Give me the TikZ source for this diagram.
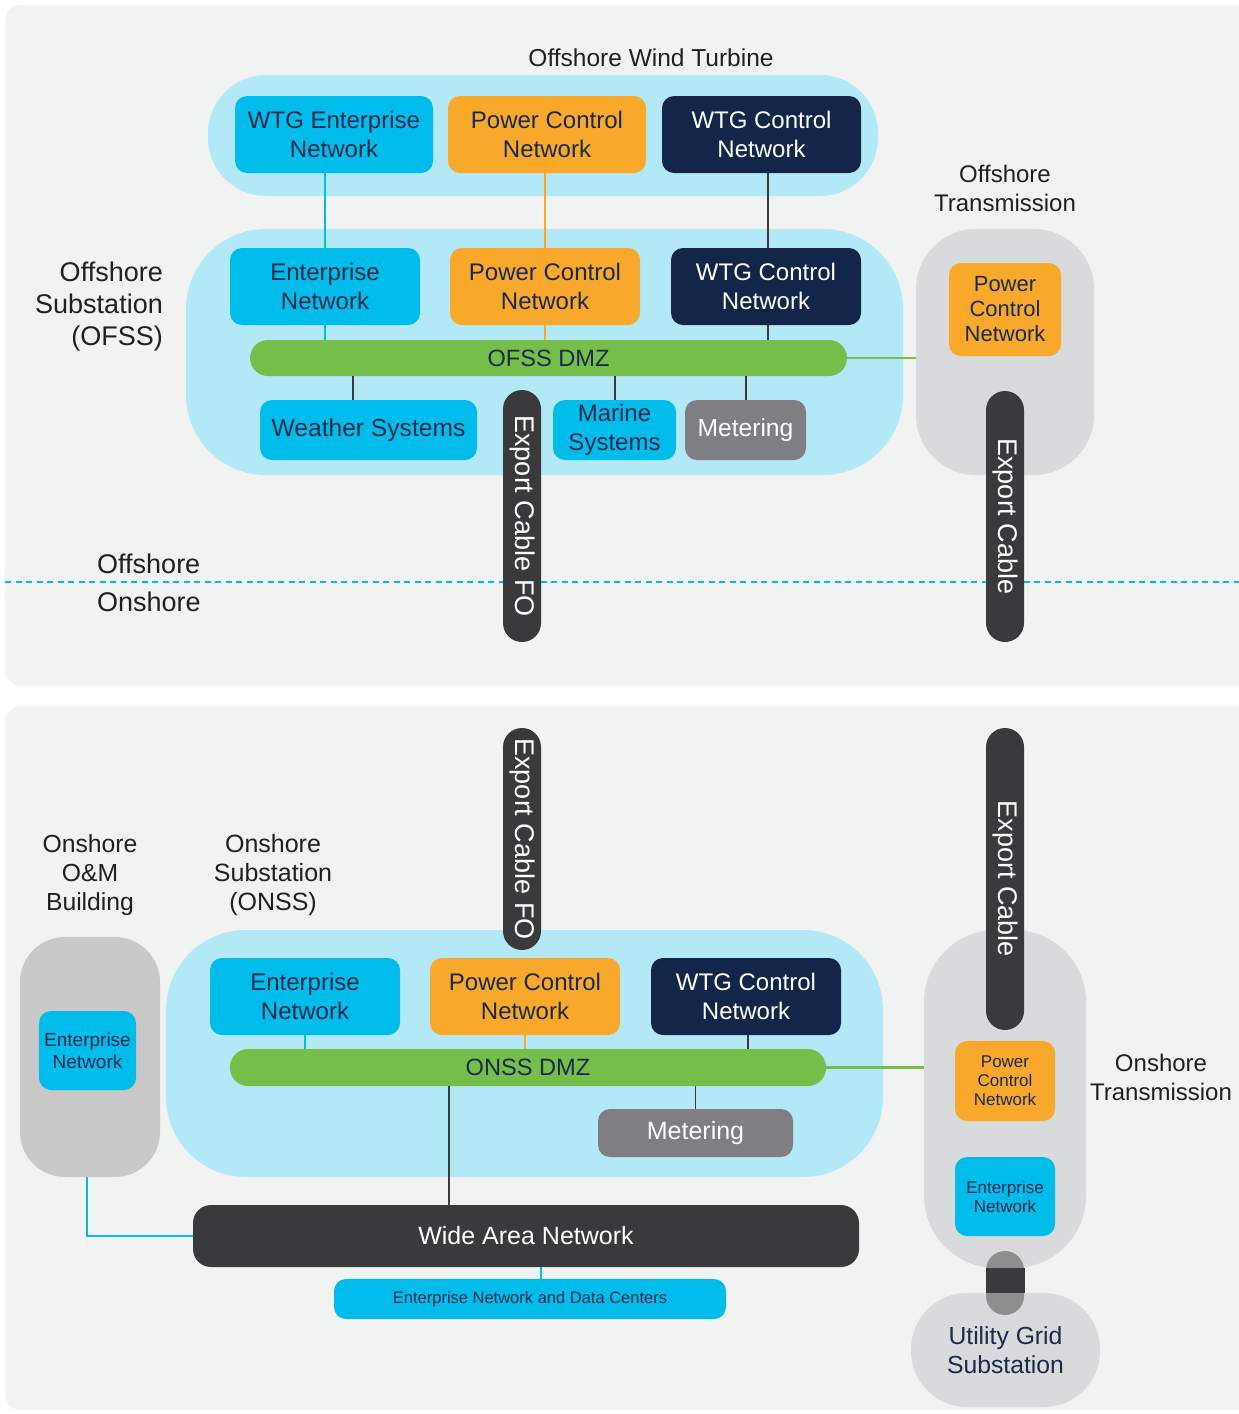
\documentclass[tikz,border=0pt]{standalone}
\usepackage{fontspec}
\setmainfont{Liberation Sans}
\usetikzlibrary{calc}
\definecolor{panelbg}{HTML}{F1F2F2}
\definecolor{zoneblue}{HTML}{B3E8F7}
\definecolor{cyanbox}{HTML}{00BCEB}
\definecolor{orangebox}{HTML}{F8A92C}
\definecolor{navybox}{HTML}{14254A}
\definecolor{navytext}{HTML}{1B2A4A}
\definecolor{dmzgreen}{HTML}{76BE4A}
\definecolor{metergray}{HTML}{7F7E83}
\definecolor{cabledark}{HTML}{3A3A3C}
\definecolor{sitegray}{HTML}{D9DADB}
\definecolor{omgray}{HTML}{C9C9CA}
\definecolor{linkgray}{HTML}{8E8E8E}
\definecolor{labeltext}{HTML}{231F20}
\newcommand{\fsz}[2]{\fontsize{#1}{#2}\selectfont}
\tikzset{
  box/.style={rounded corners=12, inner sep=0, align=center, minimum height=77},
  entbox/.style={box, fill=cyanbox, text=navytext},
  pcnbox/.style={box, fill=orangebox, text=navytext},
  wtgbox/.style={box, fill=navybox, text=white},
  meterbox/.style={box, fill=metergray, text=white},
  dmzbar/.style={rounded corners=18, inner sep=0, fill=dmzgreen, text=navytext, minimum height=36},
  zone/.style={inner sep=0, fill=zoneblue},
  site/.style={inner sep=0, fill=sitegray},
  pill/.style={rotate=-90, rounded corners=19, fill=cabledark, text=white, inner sep=0, minimum height=38, font=\fsz{27}{32}},
  lbl/.style={text=labeltext, align=center, inner sep=0},
  cyanline/.style={draw=cyanbox, line width=2},
  orangeline/.style={draw=orangebox, line width=2},
  darkline/.style={draw=cabledark, line width=2},
  thinline/.style={draw=cabledark, line width=1.2},
  greenline/.style={draw=dmzgreen, line width=2.5},
}
\begin{document}
\begin{tikzpicture}[x=1pt,y=-1pt]
\useasboundingbox (0,0) rectangle (1239,1414);
\clip (0,0) rectangle (1239,1414);
\fill[white] (0,0) rectangle (1239,1414);

% ---------- offshore panel ----------
\fill[panelbg, rounded corners=16] (5,5) rectangle (1260,686);
\node[lbl, font=\fsz{24.5}{29}] (turbinelbl) at (651,58) {Offshore Wind Turbine};
\node[lbl, font=\fsz{27}{32}, align=right, anchor=east] (ofsslbl) at (163,307) {Offshore\\Substation\\(OFSS)};
\node[lbl, font=\fsz{24}{29}] (offtranslbl) at (1005,188) {Offshore\\Transmission};

\node[zone, rounded corners=58, minimum width=670, minimum height=121] (turbine) at (543,135.5) {};
\node[zone, rounded corners=80, minimum width=717, minimum height=246] (ofss) at (544.5,352) {};
\node[site, rounded corners=60, minimum width=178, minimum height=246] (offtrans) at (1005,352) {};

% boxes of the wind turbine
\node[entbox, minimum width=198, font=\fsz{24}{29}] (wtgent) at (334,134.5) {WTG Enterprise\\Network};
\node[pcnbox, minimum width=198, font=\fsz{24}{29}] (wtgpcn) at (547,134.5) {Power Control\\Network};
\node[wtgbox, minimum width=199, font=\fsz{24}{29}] (wtgctl) at (761.5,134.5) {WTG Control\\Network};

% boxes of the offshore substation
\node[entbox, minimum width=190, font=\fsz{24}{29}] (ofent) at (325,286.5) {Enterprise\\Network};
\node[pcnbox, minimum width=190, font=\fsz{24}{29}] (ofpcn) at (545,286.5) {Power Control\\Network};
\node[wtgbox, minimum width=190, font=\fsz{24}{29}] (ofctl) at (766,286.5) {WTG Control\\Network};
\node[dmzbar, minimum width=597, font=\fsz{23.6}{28}] (ofdmz) at (548.5,358) {OFSS DMZ};
\node[entbox, minimum width=217, minimum height=60, font=\fsz{24.6}{29}] (weather) at (368.5,430) {Weather Systems};
\node[entbox, minimum width=123, minimum height=60, font=\fsz{24}{29}] (marine) at (614.5,430) {Marine\\Systems};
\node[meterbox, minimum width=121, minimum height=60, font=\fsz{24.6}{29}] (ofmeter) at (745.5,430) {Metering};

\node[pcnbox, minimum width=112, minimum height=93, font=\fsz{22}{25}] (otpcn) at (1005,309.5) {Power\\Control\\Network};

% turbine to substation links
\draw[cyanline] (ofent.north) -- (ofent.north |- wtgent.south);
\draw[orangeline] (ofpcn.north) -- (ofpcn.north |- wtgpcn.south);
\draw[darkline] ([xshift=2]ofctl.north) -- ([xshift=2]ofctl.north |- wtgctl.south);
% substation links to the DMZ
\draw[cyanline] (ofent.south) -- (ofent.south |- ofdmz.north);
\draw[orangeline] (ofpcn.south) -- (ofpcn.south |- ofdmz.north);
\draw[darkline] ([xshift=2]ofctl.south) -- ([xshift=2]ofctl.south |- ofdmz.north);
\draw[darkline] ([xshift=-16]weather.north) -- ([xshift=-16]weather.north |- ofdmz.south);
\draw[darkline] (marine.north) -- (marine.north |- ofdmz.south);
\draw[darkline] (ofmeter.north) -- (ofmeter.north |- ofdmz.south);
\draw[greenline] (ofdmz.east) -- (ofdmz.east -| offtrans.west);

% shore line
\coordinate (shoreW) at (5,582);
\coordinate (shoreE) at (1239,582);
\draw[cyanbox, line width=2.5, dash pattern=on 6 off 4.5] (shoreW) -- (shoreE);
\node[lbl, font=\fsz{27}{32}, anchor=west] (offlbl) at (97,564) {Offshore};
\node[lbl, font=\fsz{27}{32}, anchor=west] (onlbl) at (97,602) {Onshore};

% export cables (offshore side)
\node[pill, minimum width=252] (fo1) at (522,516) {Export Cable FO};
\node[pill, minimum width=251] (ec1) at (1005,516.5) {Export Cable};

% ---------- onshore panel ----------
\fill[panelbg, rounded corners=16] (5,706) rectangle (1260,1410);
\node[lbl, font=\fsz{24.7}{29}] (omlbl) at (90,875) {Onshore\\O\&M\\Building};
\node[lbl, font=\fsz{25}{29}] (onsslbl) at (273,875) {Onshore\\Substation\\(ONSS)};
\node[lbl, font=\fsz{24}{29}] (ontranslbl) at (1161,1077.5) {Onshore\\Transmission};

\node[site, fill=omgray, rounded corners=45, minimum width=140, minimum height=240] (om) at (90,1057) {};
\node[zone, rounded corners=80, minimum width=717, minimum height=247] (onss) at (524.5,1053.5) {};
\node[site, rounded corners=72, minimum width=162, minimum height=338] (ontrans) at (1005,1099) {};
\node[site, rounded corners=56, minimum width=189, minimum height=114, text=navytext, align=center, font=\fsz{24.7}{29}] (utility) at (1005.5,1350) {Utility Grid\\Substation};

\node[entbox, minimum width=97, minimum height=79, font=\fsz{19}{22}] (oment) at (87.5,1050.5) {Enterprise\\Network};

\node[entbox, minimum width=190, font=\fsz{24}{29}] (onent) at (305,996.5) {Enterprise\\Network};
\node[pcnbox, minimum width=190, font=\fsz{24}{29}] (onpcn) at (525,996.5) {Power Control\\Network};
\node[wtgbox, minimum width=190, font=\fsz{24}{29}] (onctl) at (746,996.5) {WTG Control\\Network};
\node[dmzbar, minimum width=596, minimum height=37, font=\fsz{23.6}{28}] (ondmz) at (528,1067.5) {ONSS DMZ};
\node[meterbox, minimum width=195, minimum height=48, font=\fsz{25}{29}] (onmeter) at (695.5,1133) {Metering};

\node[pcnbox, minimum width=100, minimum height=80, font=\fsz{17}{19}] (ctpcn) at (1005,1081) {Power\\Control\\Network};
\node[entbox, minimum width=100, minimum height=79, font=\fsz{17}{19}] (ctent) at (1005,1196.5) {Enterprise\\Network};

\node[box, fill=cabledark, text=white, rounded corners=18, minimum width=666, minimum height=62, font=\fsz{25}{29}] (wan) at (526,1236) {Wide Area Network};
\node[entbox, minimum width=392, minimum height=40, font=\fsz{16.5}{20}] (entdc) at (530,1299) {Enterprise Network and Data Centers};

% onshore links
\draw[cyanline] (onent.south) -- (onent.south |- ondmz.north);
\draw[orangeline] (onpcn.south) -- (onpcn.south |- ondmz.north);
\draw[thinline] ([xshift=2]onctl.south) -- ([xshift=2]onctl.south |- ondmz.north);
\draw[thinline] (onmeter.north) -- (onmeter.north |- ondmz.south);
\draw[thinline] ([xshift=-77]wan.north |- ondmz.south) -- ([xshift=-77]wan.north);
\draw[greenline] (ondmz.east) -- (ondmz.east -| ontrans.west);
\draw[cyanline] ([xshift=-3]om.south) |- (wan.west);
\draw[cyanline] ([xshift=11]entdc.north) -- ([xshift=11]entdc.north |- wan.south);

% export cables (onshore side)
\node[pill, minimum width=222] (fo2) at (522,839) {Export Cable FO};
\node[pill, minimum width=302] (ec2) at (1005,879) {Export Cable};

% grid connection between transmission and utility substation
\fill[linkgray, rounded corners=19] (986,1251) rectangle (1024,1315);
\fill[cabledark] ([xshift=-19]ontrans.south) rectangle ([xshift=19]utility.north);
\end{tikzpicture}
\end{document}
